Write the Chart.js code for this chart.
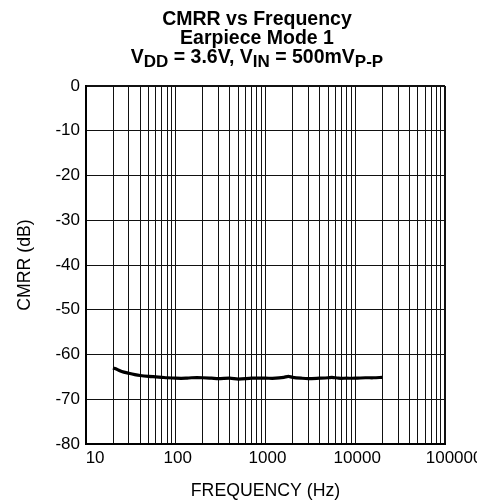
<!DOCTYPE html>
<html>
<head>
<meta charset="utf-8">
<script src="https://cdn.jsdelivr.net/npm/chart.js@4/dist/chart.umd.min.js"></script>
<style>
  html, body { margin: 0; padding: 0; background: #fff; }
  #wrap { position: relative; width: 477px; height: 504px; overflow: hidden; }
  #chart { position: absolute; left: 0; top: 0; }
  #title {
    position: absolute; left: 57px; top: 8.5px; width: 400px;
    text-align: center; font-family: "Liberation Sans", Arial, sans-serif;
    font-weight: bold; font-size: 19.5px; line-height: 19px; color: #000;
  }
  #title .sub { font-size: 17px; position: relative; top: 4.7px; line-height: 0; }
</style>
</head>
<body>
<div id="wrap">
  <canvas id="chart" width="477" height="504"></canvas>
  <div id="title">CMRR vs Frequency<br>Earpiece Mode 1<br>V<span class="sub">DD</span> = 3.6V, V<span class="sub">IN</span> = 500mV<span class="sub">P-P</span></div>
</div>
<script>
// ---- data ----
const freqHz = [20, 22, 25, 30, 35, 40, 50, 60, 70, 80, 100, 130, 150, 200, 250, 300, 400, 500, 700, 1000, 1300, 1600, 1800, 2000, 2500, 3000, 4000, 5000, 5500, 6500, 8000, 10000, 13000, 16000, 20000];
const cmrrDb = [-63.0, -63.3, -63.8, -64.2, -64.5, -64.7, -64.9, -65.0, -65.1, -65.2, -65.3, -65.3, -65.2, -65.2, -65.3, -65.4, -65.3, -65.5, -65.3, -65.3, -65.3, -65.1, -64.9, -65.1, -65.3, -65.4, -65.3, -65.2, -65.1, -65.3, -65.3, -65.3, -65.2, -65.2, -65.1];
const xTickLabels = [10, 100, 1000, 10000, 100000];
const xGridMultipliers = [1, 2, 3, 4, 5, 6, 7, 8, 9];
const yMin = -80, yMax = 0, yStep = 10;
const xTitle = 'FREQUENCY (Hz)';
const yTitle = 'CMRR (dB)';

const xGrid = [];
for (let d = 0; d < xTickLabels.length - 1; d++) {
  for (const m of xGridMultipliers) xGrid.push(xTickLabels[d] * m);
}
xGrid.push(xTickLabels[xTickLabels.length - 1]);

const points = freqHz.map((f, i) => ({ x: f, y: cmrrDb[i] }));
const FONT = '"Liberation Sans", Arial, sans-serif';
// the end labels in the reference sit a little right of their grid lines
const labelLead = (v) => (v === xTickLabels[0] || v === xTickLabels[xTickLabels.length - 1]) ? '   ' : '';

new Chart(document.getElementById('chart'), {
  type: 'line',
  data: {
    datasets: [{
      data: points,
      borderColor: '#000',
      borderWidth: 3.2,
      pointRadius: 0,
      tension: 0.3,
      fill: false
    }]
  },
  options: {
    responsive: false,
    animation: false,
    devicePixelRatio: 1,
    layout: { padding: { top: 86, right: 32, bottom: 0, left: 0 } },
    plugins: { legend: { display: false }, tooltip: { enabled: false }, title: { display: false } },
    scales: {
      x: {
        type: 'logarithmic',
        min: xTickLabels[0],
        max: xTickLabels[xTickLabels.length - 1],
        afterBuildTicks: (s) => { s.ticks = xGrid.map(v => ({ value: v })); },
        afterFit: (s) => { s.height = 60; s.paddingLeft = 0; s.paddingRight = 0; },
        grid: {
          color: '#111',
          lineWidth: (c) => (c.tick && (c.tick.value === xTickLabels[0] || c.tick.value === xTickLabels[xTickLabels.length - 1])) ? 2 : 1,
          drawTicks: false
        },
        border: { color: '#000', width: 2 },
        ticks: {
          autoSkip: false, maxRotation: 0, padding: 4, labelOffset: 2,
          color: '#000', font: { family: FONT, size: 17 },
          callback: (v) => xTickLabels.includes(v) ? labelLead(v) + String(v) : ''
        },
        title: {
          display: true, text: xTitle, color: '#000',
          font: { family: FONT, size: 17.7 }, padding: { top: 0, bottom: 2 }
        }
      },
      y: {
        min: yMin, max: yMax,
        afterFit: (s) => { s.width = 86; },
        grid: {
          color: '#111',
          lineWidth: (c) => (c.tick && (c.tick.value === yMin || c.tick.value === yMax)) ? 2 : 1,
          drawTicks: false
        },
        border: { color: '#000', width: 2 },
        ticks: {
          stepSize: yStep, padding: 6, color: '#000',
          font: { family: FONT, size: 17 }
        },
        title: {
          display: true, text: yTitle, color: '#000',
          font: { family: FONT, size: 17.7 }, padding: { top: 14, bottom: 0 }
        }
      }
    }
  }
});
</script>
</body>
</html>
